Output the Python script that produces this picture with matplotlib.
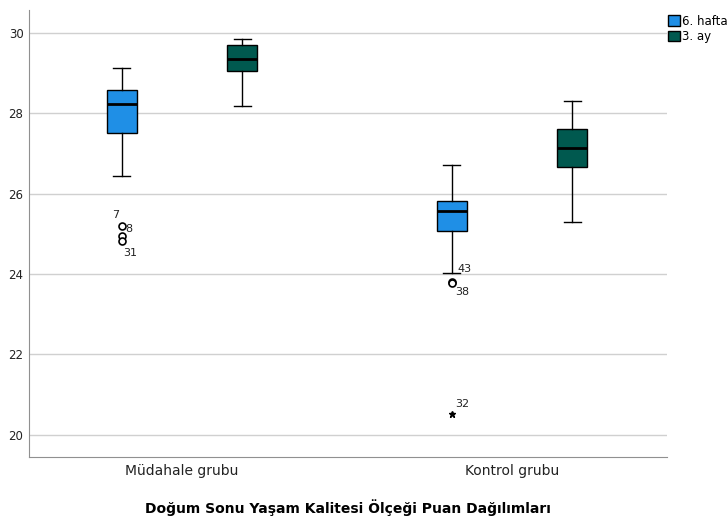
import matplotlib.pyplot as plt
from matplotlib.patches import Patch

# groups and series
groups = ['Müdahale grubu', 'Kontrol grubu']
series = ['6. hafta', '3. ay']
colors = ['#1f8fe6', '#00594f']

# box stats per series: [whislo, q1, med, q3, whishi] for each group
stats_6hafta = [[26.44, 27.51, 28.23, 28.58, 29.13],
                [24.03, 25.07, 25.57, 25.82, 26.72]]
stats_3ay = [[28.18, 29.05, 29.35, 29.70, 29.85],
             [25.30, 26.67, 27.14, 27.61, 28.31]]

# outliers (group index, value, label)
outliers_6hafta = [(0, 25.2, '7'), (0, 24.95, '8'), (0, 24.83, '31'), (1, 23.8, '43'), (1, 23.78, '38')]
extremes_6hafta = [(1, 20.52, '32')]

fig = plt.figure(figsize=(7.27, 5.19), dpi=100)
ax = fig.add_axes([0.0399, 0.1195, 0.8776, 0.8612])

offset = 0.183
width = 0.091
all_stats = [stats_6hafta, stats_3ay]
for si, st in enumerate(all_stats):
    bx = []
    for g, (lo, q1, med, q3, hi) in enumerate(st):
        bx.append(dict(whislo=lo, q1=q1, med=med, q3=q3, whishi=hi, fliers=[]))
    pos = [g + 1 + (si * 2 - 1) * offset for g in range(len(st))]
    ax.bxp(bx, positions=pos, widths=width, patch_artist=True, showfliers=False,
           boxprops=dict(facecolor=colors[si], edgecolor='black', linewidth=1),
           medianprops=dict(color='black', linewidth=2),
           whiskerprops=dict(color='black', linewidth=1),
           capprops=dict(color='black', linewidth=1), capwidths=width * 0.55,
           manage_ticks=False, zorder=3)

# outlier markers and labels (label position: dx in x units, absolute y)
label_pos = {'7': (-0.03, 25.47), '8': (0.012, 25.12), '31': (0.006, 24.53),
             '43': (0.018, 24.12), '38': (0.012, 23.55)}
for g, v, lab in outliers_6hafta:
    x = g + 1 - offset
    ax.plot(x, v, marker='o', markersize=5, markerfacecolor='white',
            markeredgecolor='black', markeredgewidth=1.2, zorder=4)
    dx, ty = label_pos[lab]
    ax.text(x + dx, ty, lab, fontsize=8, color='#222222', va='center', ha='left')
for g, v, lab in extremes_6hafta:
    x = g + 1 - offset
    ax.plot(x, v, marker='*', markersize=5, color='black', zorder=4)
    ax.text(x + 0.012, v + 0.24, lab, fontsize=8, color='#222222', va='center', ha='left')

ax.set_xlim(0.536, 2.47)
ax.set_ylim(19.45, 30.57)
ax.set_yticks([20, 22, 24, 26, 28, 30])
ax.set_xticks([1, 2])
ax.set_xticklabels(groups, fontsize=10, color='#222222')
ax.tick_params(axis='y', labelsize=8.5, colors='#222222', length=0, pad=4)
ax.tick_params(axis='x', length=0, pad=5)
ax.grid(axis='y', color='#d0d0d0', linewidth=1, zorder=0)
ax.set_axisbelow(True)
for s in ['top', 'right']:
    ax.spines[s].set_visible(False)
for s in ['left', 'bottom']:
    ax.spines[s].set_color('#909090')

ax.set_xlabel('Doğum Sonu Yaşam Kalitesi Ölçeği Puan Dağılımları', fontsize=10,
              fontweight='bold', labelpad=15)

handles = [Patch(facecolor=c, edgecolor='black', label=l) for c, l in zip(colors, series)]
ax.legend(handles=handles, loc='upper left', bbox_to_anchor=(0.994, 1.0), frameon=False,
          fontsize=8.5, handlelength=1.0, handleheight=1.0, handletextpad=0.2,
          labelspacing=0.2, borderaxespad=0)

fig.savefig('out.png', dpi=100)
